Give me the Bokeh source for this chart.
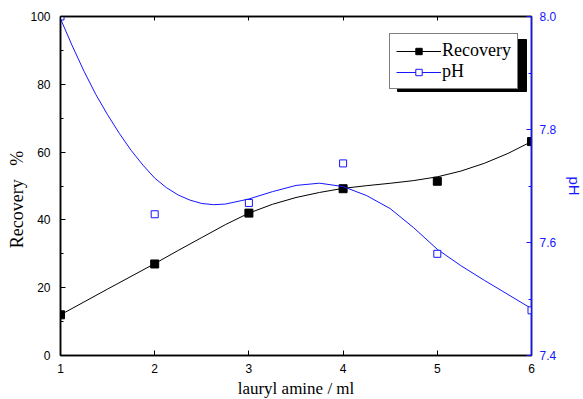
from bokeh.plotting import figure
from bokeh.models import (Range1d, LinearAxis, FixedTicker, Legend, LegendItem,
                          BoxAnnotation, ColumnDataSource, PrintfTickFormatter)
from bokeh.embed import file_html
from bokeh.resources import INLINE

# ---- data ----
amine = [1, 2, 3, 4, 5, 6]
recovery = [12.0, 27.0, 42.0, 49.2, 51.4, 63.1]
ph = [8.0, 7.65, 7.67, 7.74, 7.58, 7.48]

# smooth fitted curves as drawn in the picture
rec_curve_x = [1.0, 1.5, 2.0, 2.25, 2.5, 2.75, 3.0, 3.25, 3.5, 3.75, 4.0,
               4.25, 4.5, 4.75, 5.0, 5.25, 5.5, 5.75, 6.0]
rec_curve = [12.0, 19.6, 27.1, 31.0, 34.8, 38.6, 42.0, 44.6, 46.6, 48.1, 49.3,
             50.1, 50.8, 51.6, 52.7, 54.4, 56.7, 59.6, 63.1]
ph_curve_x = [1.0, 1.125, 1.25, 1.375, 1.5, 1.625, 1.75, 1.875, 2.0, 2.125, 2.25, 2.375,
              2.5, 2.625, 2.75, 3.0, 3.25, 3.5, 3.75, 4.0, 4.25, 4.5, 4.75, 5.0,
              5.25, 5.5, 5.75, 6.0]
ph_curve = [7.996, 7.948, 7.903, 7.862, 7.826, 7.793, 7.763, 7.737, 7.714, 7.697, 7.684, 7.675,
            7.669, 7.667, 7.668, 7.677, 7.690, 7.701, 7.705, 7.699, 7.683, 7.660, 7.626, 7.588,
            7.559, 7.533, 7.508, 7.483]

x_ticks = [1, 2, 3, 4, 5, 6]
left_ticks = [0, 20, 40, 60, 80, 100]
left_minor = [10, 30, 50, 70, 90]
right_ticks = [7.4, 7.6, 7.8, 8.0]
right_minor = [7.5, 7.7, 7.9]

BLUE = "#1515ff"
SANS = "Liberation Sans"
SERIF = "Liberation Serif"

p = figure(frame_width=471, frame_height=339, output_backend="svg", toolbar_location=None,
           x_range=Range1d(1, 6), y_range=Range1d(0, 100),
           min_border_left=60, min_border_right=40, min_border_top=16, min_border_bottom=40)
p.extra_y_ranges = {"ph": Range1d(7.4, 8.0)}
p.grid.visible = False
p.outline_line_color = "black"
p.outline_line_width = 1.5
p.background_fill_color = "white"
p.border_fill_color = "white"

xa = p.xaxis[0]
xa.ticker = FixedTicker(ticks=x_ticks)
xa.axis_label = "lauryl amine / ml"
ya = p.yaxis[0]
ya.ticker = FixedTicker(ticks=left_ticks, minor_ticks=left_minor)
ya.axis_label = "Recovery\u00a0\u00a0\u00a0%\u00a0\u00a0\u00a0\u00a0\u00a0\u00a0"

for ax in (xa, ya):
    ax.axis_line_color = "black"
    ax.axis_line_width = 1.5
    ax.major_tick_in = 5
    ax.major_tick_out = 0
    ax.minor_tick_in = 3
    ax.minor_tick_out = 0
    ax.major_tick_line_color = "black"
    ax.minor_tick_line_color = "black"
    ax.major_label_text_font = SANS
    ax.major_label_text_font_size = "12px"
    ax.major_label_text_color = "black"
    ax.axis_label_text_font = SERIF
    ax.axis_label_text_font_style = "normal"
    ax.axis_label_text_font_size = "17px"
    ax.axis_label_text_color = "black"
xa.minor_tick_in = 0
xa.major_label_standoff = 8
xa.axis_label_standoff = 3
ya.major_label_standoff = 10
ya.axis_label_standoff = 0
ya.axis_label_text_font_size = "18px"

ta = LinearAxis(ticker=FixedTicker(ticks=x_ticks), major_label_text_alpha=0,
                major_tick_in=4, major_tick_out=0, minor_tick_in=0, minor_tick_out=0,
                axis_line_color="black", axis_line_width=1.5, major_label_standoff=0)
ta.major_label_text_font_size = "1px"
p.add_layout(ta, "above")

ra = LinearAxis(y_range_name="ph", ticker=FixedTicker(ticks=right_ticks, minor_ticks=right_minor),
                axis_label="pH", formatter=PrintfTickFormatter(format="%.1f"))
ra.axis_line_color = BLUE
ra.axis_line_width = 1.5
ra.major_tick_in = 5
ra.major_tick_out = 0
ra.minor_tick_in = 3
ra.minor_tick_out = 0
ra.major_tick_line_color = BLUE
ra.minor_tick_line_color = BLUE
ra.major_label_text_color = BLUE
ra.major_label_text_font = SANS
ra.major_label_text_font_size = "12px"
ra.major_label_standoff = 8
ra.axis_label_text_font = SANS
ra.axis_label_text_font_style = "normal"
ra.axis_label_text_font_size = "15px"
ra.axis_label_text_color = BLUE
ra.axis_label_standoff = 7
p.add_layout(ra, "right")

src = ColumnDataSource(dict(x=amine, rec=recovery, ph=ph))
rsrc = ColumnDataSource(dict(x=rec_curve_x, y=rec_curve))
psrc = ColumnDataSource(dict(x=ph_curve_x, y=ph_curve))

r_line = p.line("x", "y", source=rsrc, color="black", line_width=1)
r_pts = p.scatter("x", "rec", source=src, marker="square", size=8,
                  fill_color="black", line_color="black")
ph_line = p.line("x", "y", source=psrc, color=BLUE, line_width=1, y_range_name="ph")
ph_pts = p.scatter("x", "ph", source=src, marker="square", size=7,
                   fill_color="white", line_color=BLUE, line_width=1, y_range_name="ph")

# legend shadow (screen units relative to the frame, y upward)
shadow = BoxAnnotation(left=337, right=466, top=316, bottom=264,
                       left_units="screen", right_units="screen",
                       top_units="screen", bottom_units="screen",
                       fill_color="black", fill_alpha=1, line_color="black", line_alpha=1)
p.add_layout(shadow)

legend = Legend(items=[LegendItem(label="Recovery", renderers=[r_line, r_pts]),
                       LegendItem(label="pH", renderers=[ph_line, ph_pts])],
                location=(329, 266), orientation="vertical",
                glyph_width=45, glyph_height=16, label_height=16, label_standoff=1,
                spacing=0, padding=6, margin=0,
                label_text_font=SERIF, label_text_font_size="18px", label_text_color="black",
                border_line_color="black", border_line_width=1,
                background_fill_color="white", background_fill_alpha=1)
p.add_layout(legend, "center")

open("out.html", "w").write(file_html(p, INLINE))
